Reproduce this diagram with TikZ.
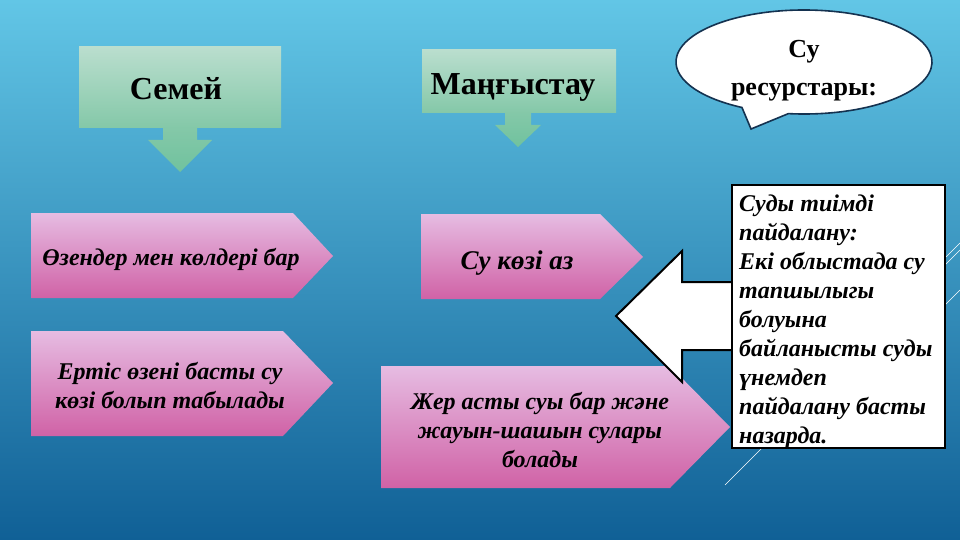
\documentclass[tikz,border=0pt]{standalone}
\usepackage{fontspec}
\setmainfont{Liberation Serif}
\usepackage{tikz}
\usetikzlibrary{positioning}
\definecolor{bgtop}{RGB}{98,198,230}
\definecolor{bgbot}{RGB}{16,96,150}
\definecolor{mintop}{RGB}{186,222,206}
\definecolor{minbot}{RGB}{132,200,168}
\definecolor{mindrop}{RGB}{112,194,158}
\definecolor{pinktop}{RGB}{230,188,226}
\definecolor{pinkbot}{RGB}{208,98,166}
\definecolor{bubbleline}{RGB}{20,50,80}
\tikzstyle{greenbox} = [top color=mintop, bottom color=minbot]
\tikzstyle{greendrop} = [top color=minbot, bottom color=mindrop]
\tikzstyle{pinkplate} = [top color=pinktop, bottom color=pinkbot]
\tikzstyle{titletext} = [font=\bfseries\fontsize{32}{38}\selectfont, inner sep=0pt]
\tikzstyle{platetext} = [font=\bfseries\itshape\fontsize{24}{29}\selectfont, align=center, inner sep=0pt]

\begin{document}
\begin{tikzpicture}[x=1pt, y=-1pt]
% slide background
\shade[top color=bgtop, bottom color=bgbot] (0,0) rectangle (960,540);
\useasboundingbox (0,0) rectangle (960,540);
\draw[white, line width=0.6pt] (725,485) -- (960,250);
\draw[white, line width=0.6pt] (930,320) -- (960,290);
\draw[white, line width=0.4pt] (946,257) -- (960,243);

% regions
\shade[greenbox] (79,47) rectangle (281,128);
\shade[greendrop] (163,128) -- (197,128) -- (197,140) -- (212,140) -- (180,172) -- (148,140) -- (163,140) -- cycle;
\node[titletext, anchor=base] (semei) at (176,100) {Семей};

\shade[greenbox] (422,50) rectangle (616,113);
\shade[greendrop] (505,113) -- (531,113) -- (531,125) -- (541,125) -- (518,147) -- (495,125) -- (505,125) -- cycle;
\node[titletext, anchor=base] (mang) at (513,95) {Маңғыстау};

% facts
\shade[pinkplate] (31,213) -- (293,213) -- (333,256) -- (293,298) -- (31,298) -- cycle;
\node[platetext, anchor=base] (ozen) at (171,265) {Өзендер мен көлдері бар};

\shade[pinkplate] (31,331) -- (283,331) -- (333,383) -- (283,436) -- (31,436) -- cycle;
\node[platetext] (ertis) at (170,386) {Ертіс өзені басты су\\көзі болып табылады};

\shade[pinkplate] (421,214) -- (600,214) -- (643,257) -- (600,299) -- (421,299) -- cycle;
\node[platetext, font=\bfseries\itshape\fontsize{27}{32}\selectfont, anchor=base] (az) at (517,269) {Су көзі аз};

\shade[pinkplate] (381,366) -- (670,366) -- (730,427) -- (670,488) -- (381,488) -- cycle;
\node[platetext] (zher) at (540,430) {Жер асты суы бар және\\жауын-шашын сулары\\болады};

% note
\draw[fill=white, line width=2pt] (616,316) -- (682,251) -- (682,282) -- (740,282) -- (740,350) -- (682,350) -- (682,382) -- cycle;
\node[draw, fill=white, line width=2pt, minimum width=213pt, minimum height=263pt, anchor=north west, inner sep=0pt] (notebox) at (731,184) {};
\node[platetext, align=left, anchor=north west] (note) at (739,195) {Суды тиімді\\пайдалану:\\Екі облыстада су\\тапшылыгы\\болуына\\байланысты суды\\үнемдеп\\пайдалану басты\\назарда.};

% bubble
\coordinate (bub) at (804,62);
\draw[fill=white, draw=bubbleline, line width=1.6pt] (751,129) -- ([shift={(97:128 and 52)}]bub) arc[start angle=97, end angle=-241, x radius=128, y radius=52] -- cycle;
\node[font=\bfseries\fontsize{26}{38}\selectfont, align=center, inner sep=0pt] (res) at (804,71) {Су\\ресурстары:};
\end{tikzpicture}
\end{document}
